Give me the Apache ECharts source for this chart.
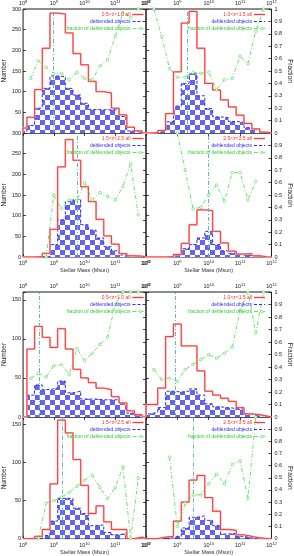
<!DOCTYPE html>
<html><head><meta charset="utf-8">
<script src="https://cdn.jsdelivr.net/npm/echarts@6/dist/echarts.min.js"></script>
<style>html,body{margin:0;padding:0;background:#fff}#c{width:294px;height:556px}</style>
</head><body><div id="c"></div>
<script>
// ---------- DATA ----------
// bin centres, log10(M*/Msun), bin width 0.25 dex
const binCenters = [8.0,8.25,8.5,8.75,9.0,9.25,9.5,9.75,10.0,10.25,10.5,10.75,11.0,11.25,11.5,11.75,12.0];
const zLabels = ['0.5<z<1.0 all','1.0<z<1.5 all','1.5<z<2.5 all','2.5<z<3.5 all'];
const xTickExponents = [8,9,10,11,12];

// upper figure (A)
const allA1  = [12,38,105,205,290,288,242,192,165,125,100,97,60,44,14,5,0];
const debA1  = [5,18,60,108,138,136,108,92,72,57,56,56,56,40,5,1,0];
const fracA1 = [null,0.44,0.58,0.53,0.48,0.48,0.43,0.49,0.44,0.43,0.54,0.59,0.78,0.97,0.93,1.0,null];
const allA2  = [0,1,6,47,148,266,294,205,120,104,80,63,43,23,10,2,0];
const debA2  = [0,1,5,27,65,120,143,90,59,39,37,28,26,13,8,2,0];
const fracA2 = [null,1.0,0.78,0.52,0.45,0.45,0.49,0.48,0.49,0.35,0.43,0.44,0.62,0.56,0.82,1.0,null];
const allA3  = [0,0,1,9,67,218,284,234,170,134,91,51,31,8,3,2,0];
const debA3  = [0,0,0,0,30,90,134,139,78,65,46,25,15,5,2,1,0];
const fracA3 = [null,null,null,0.0,0.5,0.39,0.46,0.46,0.6,0.46,0.52,0.49,0.46,0.57,0.75,0.34,null];
const allA4  = [0,0,0,1,6,33,78,114,112,62,34,14,7,8,3,0,0];
const debA4  = [0,0,0,0,6,20,30,46,62,30,15,9,5,4,2,0,0];
const fracA4 = [null,null,null,null,1.0,0.70,0.39,0.40,0.5,0.58,0.45,0.68,0.68,0.46,0.61,null,null];
const medianA = [8.97,9.31,9.75,10.0];

// lower figure (B)
const allB1  = [0,87,116,102,89,113,87,61,50,44,37,35,26,18,8,3,0];
const debB1  = [0,28,41,35,37,46,31,33,23,23,22,22,22,18,5,2,0];
const fracB1 = [null,0.31,0.35,0.32,0.41,0.42,0.34,0.55,0.45,0.51,0.58,0.64,0.9,1.0,1.0,1.0,null];
const allB2  = [16,16,37,103,119,91,91,59,33,28,24,20,12,4,3,1,0];
const debB2  = [4,6,12,33,32,33,36,28,17,13,12,11,10,4,2,1,0];
const fracB2 = [null,0.38,0.30,0.31,0.285,0.38,0.42,0.46,0.5,0.47,0.51,0.56,0.85,1.0,0.67,1.0,null];
const allB3  = [0,0,3,12,72,156,139,104,70,33,43,22,12,12,0,2,0];
const debB3  = [0,0,0,4,23,53,53,40,33,17,18,8,5,7,0,1,0];
const fracB3 = [null,null,0.0,0.29,0.31,0.34,0.38,0.43,0.48,0.52,0.42,0.33,0.42,0.59,0.0,0.5,null];
const allB4  = [0,0,2,3,23,48,77,83,54,36,12,11,5,3,1,0,0];
const debB4  = [0,0,0,2,3,14,28,30,24,17,6,7,3,1,1,0,0];
const fracB4 = [null,null,null,0.67,0.1,0.29,0.36,0.36,0.45,0.53,0.45,0.61,0.64,0.33,1.0,null,null];
const medianB = [8.52,8.92,9.28,9.52];

// ---------- LAYOUT ----------
const FONT = 'Liberation Sans, Arial, Helvetica, sans-serif';
const colX = [{left:23,width:123},{left:146,width:126}];
const blocks = {A:{top:9,h:[124,124],countMax:300}, B:{top:292,h:[125,124],countMax:160}};

const panels = [
  {all:allA1,deb:debA1,frac:fracA1,med:medianA[0],label:zLabels[0],block:'A',row:0,col:0},
  {all:allA2,deb:debA2,frac:fracA2,med:medianA[1],label:zLabels[1],block:'A',row:0,col:1},
  {all:allA3,deb:debA3,frac:fracA3,med:medianA[2],label:zLabels[2],block:'A',row:1,col:0},
  {all:allA4,deb:debA4,frac:fracA4,med:medianA[3],label:zLabels[3],block:'A',row:1,col:1},
  {all:allB1,deb:debB1,frac:fracB1,med:medianB[0],label:zLabels[0],block:'B',row:0,col:0},
  {all:allB2,deb:debB2,frac:fracB2,med:medianB[1],label:zLabels[1],block:'B',row:0,col:1},
  {all:allB3,deb:debB3,frac:fracB3,med:medianB[2],label:zLabels[2],block:'B',row:1,col:0},
  {all:allB4,deb:debB4,frac:fracB4,med:medianB[3],label:zLabels[3],block:'B',row:1,col:1}
];

// checkerboard pattern for deblended histograms
const pc = document.createElement('canvas'); pc.width = 10; pc.height = 10;
const pg = pc.getContext('2d');
pg.fillStyle = '#ffffff'; pg.fillRect(0,0,10,10);
pg.fillStyle = '#6464f0'; pg.fillRect(0,0,5,5); pg.fillRect(5,5,5,5);
const checker = {image: pc, repeat: 'repeat'};

function stepData(counts){
  const pts = [];
  const n = counts.length;
  counts.forEach((v,i)=>{
    const lo = Math.max(8, binCenters[i]-0.125);
    if(i===0) pts.push([Math.pow(10,lo),0]);
    pts.push([Math.pow(10,lo),v]);
  });
  pts.push([Math.pow(10,Math.min(12,binCenters[n-1]+0.125)),0]);
  return pts;
}
function fracData(fr){
  const pts=[];
  fr.forEach((f,i)=>{ if(f!==null) pts.push([Math.pow(10,binCenters[i]),f]); });
  return pts;
}

const grid=[], xAxis=[], yAxis=[], series=[], graphic=[];
panels.forEach((p,i)=>{
  const b = blocks[p.block];
  const g = {left:colX[p.col].left, width:colX[p.col].width,
             top: b.top + (p.row? b.h[0]:0), height: b.h[p.row]};
  const isTop = p.row===0, isLeft = p.col===0;
  grid.push({left:g.left, top:g.top, width:g.width, height:g.height, show:true,
             borderColor:'#1a1a1a', borderWidth:1, backgroundColor:'rgba(0,0,0,0)'});
  xAxis.push({
    type:'log', logBase:10, min:1e8, max:1e12, gridIndex:i,
    position: isTop?'top':'bottom',
    axisLine:{show:false}, splitLine:{show:false},
    axisTick:{show:true, inside:true, length:3, lineStyle:{color:'#1a1a1a', width:0.8}},
    axisLabel:{show:true, margin:isTop?2:3, color:'#222',
      formatter: v => '{b|10}{s|' + Math.round(Math.log10(v)) + '}',
      rich:{b:{fontSize:5.5, fontFamily:FONT, color:'#222'},
            s:{fontSize:4, fontFamily:FONT, color:'#222', padding:[0,0,3,0]}}},
    name: isTop? '' : 'Stellar Mass (Msun)', nameLocation:'middle', nameGap:9,
    nameTextStyle:{fontSize:5.5, color:'#333', fontFamily:FONT}
  });
  yAxis.push({
    type:'value', gridIndex:i, position:'left', min:0, max:b.countMax, interval:50,
    axisLine:{show:false}, splitLine:{show:false},
    axisTick:{show:true, inside:true, length:3, lineStyle:{color:'#1a1a1a', width:0.8}},
    axisLabel:{show:isLeft, fontSize:5.5, margin:2, color:'#222', fontFamily:FONT,
      formatter: v => {
        if (v % 50 !== 0) return '';
        if (p.block==='A' && isTop && v===0) return '';
        return String(v);
      }},
    name: isLeft? 'Number':'', nameLocation:'middle', nameGap:11,
    nameTextStyle:{fontSize:6.5, color:'#222', fontFamily:FONT}
  });
  yAxis.push({
    type:'value', gridIndex:i, position:'right', min:0, max:1, interval:0.1,
    axisLine:{show:false}, splitLine:{show:false},
    axisTick:{show:true, inside:true, length:3, lineStyle:{color:'#1a1a1a', width:0.8}},
    axisLabel:{show:!isLeft, fontSize:5.5, margin:3, color:'#222', fontFamily:FONT,
      formatter: v => {
        const r = Math.round(v*10)/10;
        if (!isTop && r===1) return '';
        return String(r);
      }},
    name: isLeft? '':'Fraction', nameLocation:'middle', nameGap:12, nameRotate:-90,
    nameTextStyle:{fontSize:6.5, color:'#222', fontFamily:FONT}
  });
  const xi=i, yc=2*i, yf=2*i+1;
  series.push({type:'line', xAxisIndex:xi, yAxisIndex:yc, step:'end', data:stepData(p.deb),
    showSymbol:false, symbol:'none', z:2,
    lineStyle:{color:'#2a2aff', width:1, type:[3,2]},
    areaStyle:{color:checker, opacity:1}});
  series.push({type:'line', xAxisIndex:xi, yAxisIndex:yc, step:'end', data:stepData(p.all),
    showSymbol:false, symbol:'none', z:3,
    lineStyle:{color:'#ffb0b0', width:1.8}});
  series.push({type:'line', xAxisIndex:xi, yAxisIndex:yc, step:'end', data:stepData(p.all),
    showSymbol:false, symbol:'none', z:4,
    lineStyle:{color:'#ff2a2a', width:0.9},
    markLine:{silent:true, symbol:['none','none'], label:{show:false},
      lineStyle:{color:'#62b8b8', width:1, type:[4,2,1,2]},
      data:[{xAxis:Math.pow(10,p.med)}]}});
  series.push({type:'line', xAxisIndex:xi, yAxisIndex:yf, data:fracData(p.frac),
    symbol:'circle', symbolSize:2.6, showSymbol:true, z:5,
    itemStyle:{color:'#ffffff', borderColor:'#44dd44', borderWidth:0.6},
    lineStyle:{color:'#44dd44', width:0.8, type:[4,2,1,2]}});

  // legend (inside each panel, top right)
  const rEdge = g.left + g.width - (isLeft?2.5:7);
  const s1 = rEdge-11, tx = s1-2;
  const ys = [g.top+5.5, g.top+12.5, g.top+19.5];
  const txt = (t,y,c)=>({type:'text', z:20, style:{text:t, x:tx, y:y, fill:c,
      font:'5px '+FONT, textAlign:'right', textVerticalAlign:'middle', align:'right', verticalAlign:'middle'}});
  graphic.push(txt(p.label, ys[0], '#ff3030'));
  graphic.push({type:'line', z:20, shape:{x1:s1,y1:ys[0],x2:rEdge,y2:ys[0]}, style:{stroke:'#ffb0b0', lineWidth:1.8}});
  graphic.push({type:'line', z:21, shape:{x1:s1,y1:ys[0],x2:rEdge,y2:ys[0]}, style:{stroke:'#ff2a2a', lineWidth:0.9}});
  graphic.push(txt('deblended objects', ys[1], '#2a2aff'));
  graphic.push({type:'line', z:20, shape:{x1:s1,y1:ys[1],x2:rEdge,y2:ys[1]}, style:{stroke:'#2a2aff', lineWidth:1, lineDash:[3,2]}});
  graphic.push(txt('fraction of deblended objects', ys[2], '#33cc33'));
  graphic.push({type:'line', z:20, shape:{x1:s1,y1:ys[2],x2:rEdge,y2:ys[2]}, style:{stroke:'#44dd44', lineWidth:0.8, lineDash:[4,2,1,2]}});
  graphic.push({type:'circle', z:21, shape:{cx:rEdge-3, cy:ys[2], r:1.2}, style:{stroke:'#44dd44', fill:'#fff', lineWidth:0.6}});
});

const chart = echarts.init(document.getElementById('c'), null, {renderer:'canvas', width:294, height:556});
chart.setOption({
  animation:false,
  backgroundColor:'#fff',
  textStyle:{fontFamily:FONT},
  grid, xAxis, yAxis, series, graphic
});
</script>
</body></html>
